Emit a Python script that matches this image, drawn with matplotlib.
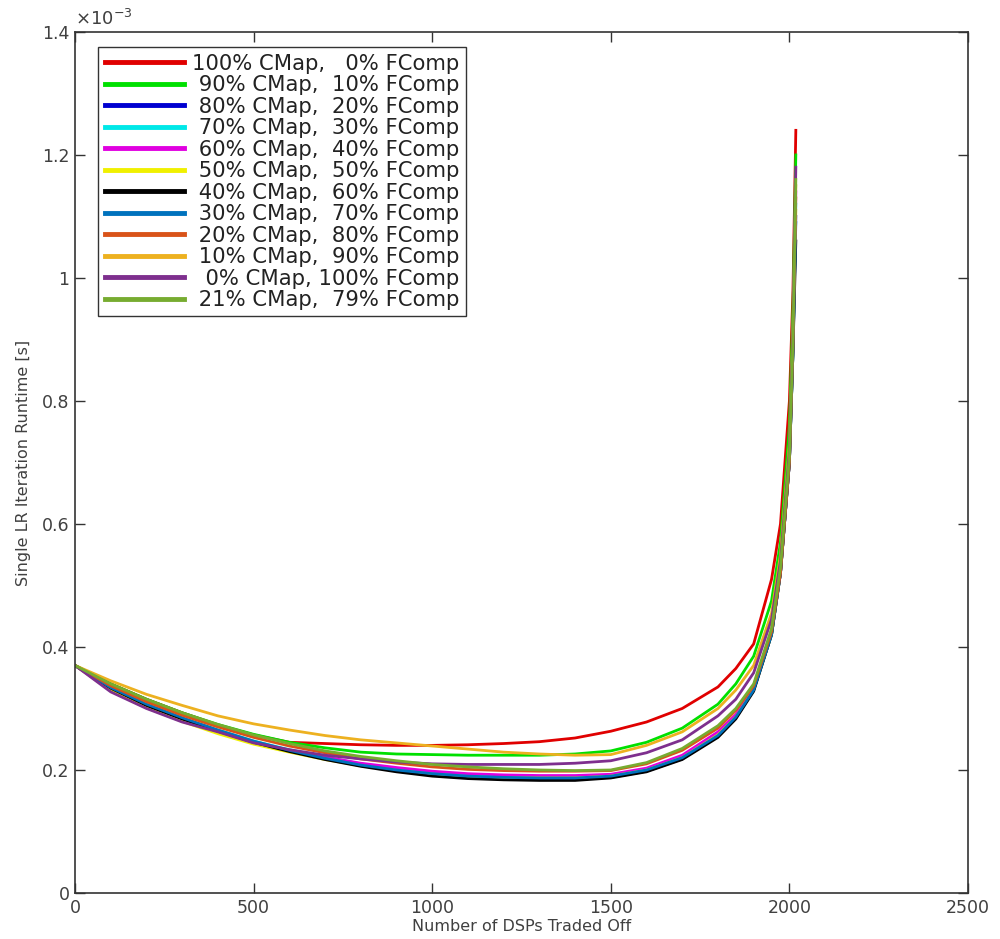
import numpy as np
import matplotlib
matplotlib.use('Agg')
import matplotlib.pyplot as plt
from matplotlib.ticker import FuncFormatter

plt.rcParams['font.family'] = ['DejaVu Sans']

# mixes: % CMap / % FComp
cmap_pct = [100, 90, 80, 70, 60, 50, 40, 30, 20, 10, 0, 21]
fcomp_pct = [0, 10, 20, 30, 40, 50, 60, 70, 80, 90, 100, 79]
colors = ['#e00000', '#00e000', '#0000d0', '#00e8e8', '#e000e0', '#f0f000',
          '#000000', '#0072bd', '#d95319', '#edb120', '#7e2f8e', '#77ac30']

# number of DSPs traded off
dsp = [0, 100, 200, 300, 400, 500, 600, 700, 800, 900, 1000, 1100, 1200,
       1300, 1400, 1500, 1600, 1700, 1800, 1850, 1900, 1950, 1975, 2000,
       2010, 2018]

# runtime in units of 1e-3 s
rt_100 = [0.37, 0.34, 0.315, 0.293, 0.273, 0.257, 0.245, 0.243, 0.241, 0.240, 0.240, 0.241, 0.243,
          0.246, 0.252, 0.263, 0.278, 0.300, 0.335, 0.365, 0.405, 0.51, 0.60, 0.80, 0.98, 1.24]
rt_90 = [0.37, 0.34, 0.315, 0.293, 0.274, 0.258, 0.245, 0.236, 0.229, 0.226, 0.225, 0.224, 0.224,
         0.224, 0.226, 0.231, 0.245, 0.268, 0.307, 0.340, 0.385, 0.475, 0.57, 0.76, 0.95, 1.20]
rt_80 = [0.37, 0.333, 0.305, 0.283, 0.263, 0.245, 0.231, 0.218, 0.207, 0.199, 0.192, 0.188, 0.186,
         0.185, 0.185, 0.188, 0.198, 0.218, 0.255, 0.285, 0.330, 0.42, 0.52, 0.70, 0.88, 1.10]
rt_70 = [0.37, 0.333, 0.306, 0.284, 0.265, 0.247, 0.233, 0.221, 0.210, 0.202, 0.196, 0.192, 0.190,
         0.189, 0.189, 0.191, 0.201, 0.222, 0.258, 0.288, 0.332, 0.42, 0.52, 0.70, 0.88, 1.12]
rt_60 = [0.37, 0.330, 0.303, 0.281, 0.262, 0.245, 0.232, 0.221, 0.211, 0.204, 0.198, 0.194, 0.192,
         0.191, 0.191, 0.193, 0.203, 0.224, 0.262, 0.290, 0.335, 0.425, 0.52, 0.70, 0.89, 1.14]
rt_50 = [0.37, 0.329, 0.301, 0.279, 0.259, 0.242, 0.229, 0.217, 0.207, 0.199, 0.193, 0.189, 0.187,
         0.187, 0.187, 0.190, 0.200, 0.220, 0.257, 0.286, 0.330, 0.42, 0.52, 0.70, 0.88, 1.11]
rt_40 = [0.37, 0.333, 0.305, 0.283, 0.263, 0.245, 0.230, 0.217, 0.206, 0.197, 0.190, 0.186, 0.184,
         0.183, 0.183, 0.187, 0.197, 0.217, 0.253, 0.283, 0.328, 0.42, 0.52, 0.70, 0.88, 1.06]
rt_30 = [0.37, 0.334, 0.307, 0.285, 0.265, 0.247, 0.232, 0.219, 0.208, 0.200, 0.194, 0.190, 0.188,
         0.187, 0.187, 0.190, 0.200, 0.220, 0.256, 0.286, 0.330, 0.42, 0.52, 0.70, 0.88, 1.09]
rt_20 = [0.37, 0.337, 0.311, 0.289, 0.270, 0.253, 0.239, 0.228, 0.218, 0.211, 0.205, 0.201, 0.199,
         0.198, 0.198, 0.199, 0.210, 0.232, 0.268, 0.297, 0.337, 0.425, 0.52, 0.70, 0.89, 1.13]
rt_10 = [0.37, 0.345, 0.323, 0.305, 0.288, 0.275, 0.265, 0.256, 0.249, 0.244, 0.239, 0.234, 0.229,
         0.226, 0.224, 0.225, 0.240, 0.262, 0.300, 0.330, 0.370, 0.455, 0.55, 0.73, 0.92, 1.15]
rt_0 = [0.37, 0.327, 0.300, 0.278, 0.262, 0.244, 0.233, 0.224, 0.218, 0.213, 0.210, 0.209, 0.209,
        0.209, 0.211, 0.215, 0.228, 0.249, 0.288, 0.315, 0.358, 0.445, 0.54, 0.72, 0.91, 1.18]
rt_21 = [0.37, 0.340, 0.315, 0.293, 0.274, 0.257, 0.243, 0.231, 0.222, 0.215, 0.209, 0.205, 0.202,
         0.200, 0.199, 0.200, 0.212, 0.235, 0.272, 0.300, 0.340, 0.43, 0.53, 0.71, 0.90, 1.16]

series = [rt_100, rt_90, rt_80, rt_70, rt_60, rt_50, rt_40, rt_30, rt_20, rt_10, rt_0, rt_21]

fig = plt.figure(figsize=(10, 9.39), dpi=100)
ax = fig.add_axes([0.075, 0.049, 0.893, 0.917])

for c, f, col, ys in zip(cmap_pct, fcomp_pct, colors, series):
    ax.plot(dsp, ys, color=col, linewidth=2.0, label='%3d%% CMap, %3d%% FComp' % (c, f))

txt = '#404040'
ax.set_xlim(0, 2500)
ax.set_ylim(0, 1.4)
ax.set_xticks([0, 500, 1000, 1500, 2000, 2500])
ax.set_yticks([0, 0.2, 0.4, 0.6, 0.8, 1.0, 1.2, 1.4])
ax.xaxis.set_major_formatter(FuncFormatter(lambda v, p: '%g' % v))
ax.yaxis.set_major_formatter(FuncFormatter(lambda v, p: '%g' % v))
ax.tick_params(direction='in', length=7, width=1, top=True, right=True,
               labelsize=12.5, colors='#333333', labelcolor=txt, pad=4)
for s in ax.spines.values():
    s.set_color('#333333')
    s.set_linewidth(1.2)

ax.text(0.0, 1.003, r'$\times10^{-3}$', transform=ax.transAxes, fontsize=13,
        color=txt, ha='left', va='bottom')

ax.set_xlabel('Number of DSPs Traded Off', fontsize=11.5, color=txt, labelpad=2)
ax.set_ylabel('Single LR Iteration Runtime [s]', fontsize=11.5, color=txt, labelpad=8)

leg = ax.legend(loc='upper left', bbox_to_anchor=(0.026, 0.982), borderaxespad=0,
                fontsize=15.2, handlelength=3.75, handletextpad=0.4, labelspacing=0.07,
                borderpad=0.3, fancybox=False, framealpha=1, edgecolor='#333333')
leg.get_frame().set_linewidth(1.0)
for line in leg.get_lines():
    line.set_linewidth(3.5)
for t in leg.get_texts():
    t.set_color('#222222')

fig.savefig('out.png', dpi=100)
